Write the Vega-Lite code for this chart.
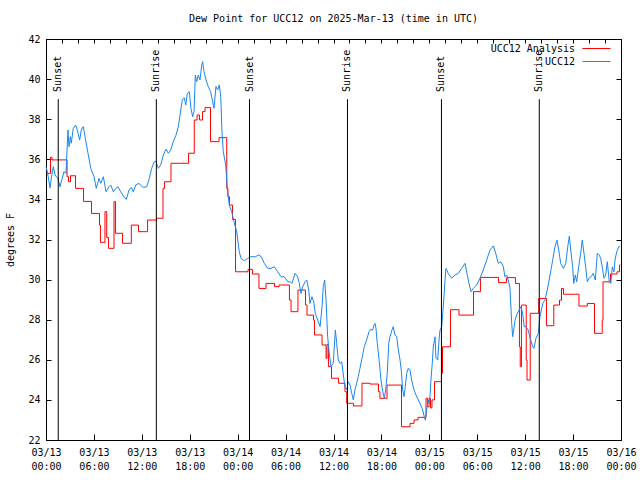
{
  "$schema": "https://vega.github.io/schema/vega-lite/v6.json",
  "width": 575,
  "height": 401,
  "autosize": {"type": "none"},
  "padding": {"left": 46, "top": 39, "right": 19, "bottom": 40},
  "background": "white",
  "title": {"text": "Dew Point for UCC12 on 2025-Mar-13 (time in UTC)", "font": "DejaVu Sans Mono", "fontSize": 10, "fontWeight": "normal", "color": "black", "anchor": "middle", "offset": 10},
  "config": {
    "view": {"stroke": "black", "strokeWidth": 1},
    "axis": {"grid": false, "domain": false, "tickColor": "black", "labelColor": "black", "labelFont": "DejaVu Sans Mono", "labelFontSize": 10, "titleFont": "DejaVu Sans Mono", "titleFontSize": 10, "titleFontWeight": "normal", "titleColor": "black"}
  },
  "datasets": {
    "sun": [
      {"time": "2025-03-13T01:32:00Z", "event": "Sunset"},
      {"time": "2025-03-13T13:49:00Z", "event": "Sunrise"},
      {"time": "2025-03-14T01:29:00Z", "event": "Sunset"},
      {"time": "2025-03-14T13:45:00Z", "event": "Sunrise"},
      {"time": "2025-03-15T01:31:00Z", "event": "Sunset"},
      {"time": "2025-03-15T13:46:00Z", "event": "Sunrise"}
    ],
    "dew": [
      {"series": "UCC12 Analysis", "time": "2025-03-13T00:00:00Z", "dewpt": 35.3},
      {"series": "UCC12 Analysis", "time": "2025-03-13T00:34:00Z", "dewpt": 36.1},
      {"series": "UCC12 Analysis", "time": "2025-03-13T00:45:00Z", "dewpt": 35.97},
      {"series": "UCC12 Analysis", "time": "2025-03-13T02:38:00Z", "dewpt": 35.13},
      {"series": "UCC12 Analysis", "time": "2025-03-13T02:49:00Z", "dewpt": 34.88},
      {"series": "UCC12 Analysis", "time": "2025-03-13T03:04:00Z", "dewpt": 35.18},
      {"series": "UCC12 Analysis", "time": "2025-03-13T03:42:00Z", "dewpt": 34.55},
      {"series": "UCC12 Analysis", "time": "2025-03-13T04:42:00Z", "dewpt": 33.9},
      {"series": "UCC12 Analysis", "time": "2025-03-13T05:42:00Z", "dewpt": 33.3},
      {"series": "UCC12 Analysis", "time": "2025-03-13T06:42:00Z", "dewpt": 32.72},
      {"series": "UCC12 Analysis", "time": "2025-03-13T06:49:00Z", "dewpt": 31.86},
      {"series": "UCC12 Analysis", "time": "2025-03-13T07:23:00Z", "dewpt": 33.39},
      {"series": "UCC12 Analysis", "time": "2025-03-13T07:36:00Z", "dewpt": 32.1},
      {"series": "UCC12 Analysis", "time": "2025-03-13T07:50:00Z", "dewpt": 31.56},
      {"series": "UCC12 Analysis", "time": "2025-03-13T08:31:00Z", "dewpt": 33.89},
      {"series": "UCC12 Analysis", "time": "2025-03-13T08:42:00Z", "dewpt": 32.31},
      {"series": "UCC12 Analysis", "time": "2025-03-13T09:35:00Z", "dewpt": 31.81},
      {"series": "UCC12 Analysis", "time": "2025-03-13T10:41:00Z", "dewpt": 32.72},
      {"series": "UCC12 Analysis", "time": "2025-03-13T11:35:00Z", "dewpt": 32.39},
      {"series": "UCC12 Analysis", "time": "2025-03-13T12:43:00Z", "dewpt": 32.97},
      {"series": "UCC12 Analysis", "time": "2025-03-13T13:50:00Z", "dewpt": 33.06},
      {"series": "UCC12 Analysis", "time": "2025-03-13T14:39:00Z", "dewpt": 34.55},
      {"series": "UCC12 Analysis", "time": "2025-03-13T14:50:00Z", "dewpt": 34.88},
      {"series": "UCC12 Analysis", "time": "2025-03-13T15:39:00Z", "dewpt": 35.8},
      {"series": "UCC12 Analysis", "time": "2025-03-13T17:51:00Z", "dewpt": 36.3},
      {"series": "UCC12 Analysis", "time": "2025-03-13T18:34:00Z", "dewpt": 37.96},
      {"series": "UCC12 Analysis", "time": "2025-03-13T18:55:00Z", "dewpt": 38.21},
      {"series": "UCC12 Analysis", "time": "2025-03-13T19:13:00Z", "dewpt": 37.96},
      {"series": "UCC12 Analysis", "time": "2025-03-13T19:36:00Z", "dewpt": 38.38},
      {"series": "UCC12 Analysis", "time": "2025-03-13T19:55:00Z", "dewpt": 38.58},
      {"series": "UCC12 Analysis", "time": "2025-03-13T20:36:00Z", "dewpt": 36.88},
      {"series": "UCC12 Analysis", "time": "2025-03-13T21:40:00Z", "dewpt": 37.08},
      {"series": "UCC12 Analysis", "time": "2025-03-13T22:38:00Z", "dewpt": 34.55},
      {"series": "UCC12 Analysis", "time": "2025-03-13T22:47:00Z", "dewpt": 34.13},
      {"series": "UCC12 Analysis", "time": "2025-03-13T22:59:00Z", "dewpt": 33.72},
      {"series": "UCC12 Analysis", "time": "2025-03-13T23:21:00Z", "dewpt": 33.0},
      {"series": "UCC12 Analysis", "time": "2025-03-13T23:44:00Z", "dewpt": 30.39},
      {"series": "UCC12 Analysis", "time": "2025-03-14T01:18:00Z", "dewpt": 30.51},
      {"series": "UCC12 Analysis", "time": "2025-03-14T01:51:00Z", "dewpt": 30.28},
      {"series": "UCC12 Analysis", "time": "2025-03-14T02:40:00Z", "dewpt": 29.56},
      {"series": "UCC12 Analysis", "time": "2025-03-14T03:33:00Z", "dewpt": 29.81},
      {"series": "UCC12 Analysis", "time": "2025-03-14T04:37:00Z", "dewpt": 29.65},
      {"series": "UCC12 Analysis", "time": "2025-03-14T05:11:00Z", "dewpt": 29.73},
      {"series": "UCC12 Analysis", "time": "2025-03-14T06:29:00Z", "dewpt": 28.98},
      {"series": "UCC12 Analysis", "time": "2025-03-14T06:41:00Z", "dewpt": 28.4},
      {"series": "UCC12 Analysis", "time": "2025-03-14T07:33:00Z", "dewpt": 29.48},
      {"series": "UCC12 Analysis", "time": "2025-03-14T08:30:00Z", "dewpt": 28.73},
      {"series": "UCC12 Analysis", "time": "2025-03-14T08:41:00Z", "dewpt": 28.23},
      {"series": "UCC12 Analysis", "time": "2025-03-14T09:30:00Z", "dewpt": 27.98},
      {"series": "UCC12 Analysis", "time": "2025-03-14T09:37:00Z", "dewpt": 27.24},
      {"series": "UCC12 Analysis", "time": "2025-03-14T10:34:00Z", "dewpt": 26.74},
      {"series": "UCC12 Analysis", "time": "2025-03-14T11:04:00Z", "dewpt": 26.07},
      {"series": "UCC12 Analysis", "time": "2025-03-14T11:11:00Z", "dewpt": 26.77},
      {"series": "UCC12 Analysis", "time": "2025-03-14T11:22:00Z", "dewpt": 25.66},
      {"series": "UCC12 Analysis", "time": "2025-03-14T11:45:00Z", "dewpt": 25.08},
      {"series": "UCC12 Analysis", "time": "2025-03-14T12:38:00Z", "dewpt": 24.83},
      {"series": "UCC12 Analysis", "time": "2025-03-14T13:26:00Z", "dewpt": 24.41},
      {"series": "UCC12 Analysis", "time": "2025-03-14T13:39:00Z", "dewpt": 23.83},
      {"series": "UCC12 Analysis", "time": "2025-03-14T14:30:00Z", "dewpt": 23.7},
      {"series": "UCC12 Analysis", "time": "2025-03-14T15:34:00Z", "dewpt": 24.83},
      {"series": "UCC12 Analysis", "time": "2025-03-14T16:34:00Z", "dewpt": 24.79},
      {"series": "UCC12 Analysis", "time": "2025-03-14T17:38:00Z", "dewpt": 24.41},
      {"series": "UCC12 Analysis", "time": "2025-03-14T17:49:00Z", "dewpt": 24.08},
      {"series": "UCC12 Analysis", "time": "2025-03-14T18:42:00Z", "dewpt": 24.74},
      {"series": "UCC12 Analysis", "time": "2025-03-14T20:31:00Z", "dewpt": 22.66},
      {"series": "UCC12 Analysis", "time": "2025-03-14T21:35:00Z", "dewpt": 22.83},
      {"series": "UCC12 Analysis", "time": "2025-03-14T22:05:00Z", "dewpt": 23.0},
      {"series": "UCC12 Analysis", "time": "2025-03-14T22:35:00Z", "dewpt": 23.13},
      {"series": "UCC12 Analysis", "time": "2025-03-14T23:35:00Z", "dewpt": 24.08},
      {"series": "UCC12 Analysis", "time": "2025-03-14T23:46:00Z", "dewpt": 23.66},
      {"series": "UCC12 Analysis", "time": "2025-03-14T23:58:00Z", "dewpt": 24.08},
      {"series": "UCC12 Analysis", "time": "2025-03-15T00:09:00Z", "dewpt": 23.6},
      {"series": "UCC12 Analysis", "time": "2025-03-15T00:20:00Z", "dewpt": 24.0},
      {"series": "UCC12 Analysis", "time": "2025-03-15T00:39:00Z", "dewpt": 24.91},
      {"series": "UCC12 Analysis", "time": "2025-03-15T01:31:00Z", "dewpt": 25.33},
      {"series": "UCC12 Analysis", "time": "2025-03-15T01:39:00Z", "dewpt": 26.65},
      {"series": "UCC12 Analysis", "time": "2025-03-15T02:39:00Z", "dewpt": 28.5},
      {"series": "UCC12 Analysis", "time": "2025-03-15T03:43:00Z", "dewpt": 28.23},
      {"series": "UCC12 Analysis", "time": "2025-03-15T05:32:00Z", "dewpt": 29.4},
      {"series": "UCC12 Analysis", "time": "2025-03-15T06:24:00Z", "dewpt": 30.11},
      {"series": "UCC12 Analysis", "time": "2025-03-15T08:40:00Z", "dewpt": 29.85},
      {"series": "UCC12 Analysis", "time": "2025-03-15T09:40:00Z", "dewpt": 30.1},
      {"series": "UCC12 Analysis", "time": "2025-03-15T10:47:00Z", "dewpt": 29.81},
      {"series": "UCC12 Analysis", "time": "2025-03-15T11:17:00Z", "dewpt": 26.65},
      {"series": "UCC12 Analysis", "time": "2025-03-15T11:23:00Z", "dewpt": 25.66},
      {"series": "UCC12 Analysis", "time": "2025-03-15T11:32:00Z", "dewpt": 28.73},
      {"series": "UCC12 Analysis", "time": "2025-03-15T12:08:00Z", "dewpt": 25.99},
      {"series": "UCC12 Analysis", "time": "2025-03-15T12:14:00Z", "dewpt": 24.99},
      {"series": "UCC12 Analysis", "time": "2025-03-15T12:38:00Z", "dewpt": 28.32},
      {"series": "UCC12 Analysis", "time": "2025-03-15T13:42:00Z", "dewpt": 29.06},
      {"series": "UCC12 Analysis", "time": "2025-03-15T14:40:00Z", "dewpt": 27.7},
      {"series": "UCC12 Analysis", "time": "2025-03-15T15:35:00Z", "dewpt": 28.73},
      {"series": "UCC12 Analysis", "time": "2025-03-15T16:18:00Z", "dewpt": 28.98},
      {"series": "UCC12 Analysis", "time": "2025-03-15T16:33:00Z", "dewpt": 29.56},
      {"series": "UCC12 Analysis", "time": "2025-03-15T16:48:00Z", "dewpt": 29.27},
      {"series": "UCC12 Analysis", "time": "2025-03-15T18:44:00Z", "dewpt": 28.68},
      {"series": "UCC12 Analysis", "time": "2025-03-15T19:47:00Z", "dewpt": 28.81},
      {"series": "UCC12 Analysis", "time": "2025-03-15T20:41:00Z", "dewpt": 27.32},
      {"series": "UCC12 Analysis", "time": "2025-03-15T21:39:00Z", "dewpt": 27.98},
      {"series": "UCC12 Analysis", "time": "2025-03-15T21:45:00Z", "dewpt": 29.89},
      {"series": "UCC12 Analysis", "time": "2025-03-15T22:41:00Z", "dewpt": 30.28},
      {"series": "UCC12 Analysis", "time": "2025-03-15T23:30:00Z", "dewpt": 30.39},
      {"series": "UCC12 Analysis", "time": "2025-03-15T23:49:00Z", "dewpt": 30.73},
      {"series": "UCC12 Analysis", "time": "2025-03-15T23:55:00Z", "dewpt": 30.73},
      {"series": "UCC12", "time": "2025-03-13T00:00:00Z", "dewpt": 35.63},
      {"series": "UCC12", "time": "2025-03-13T00:10:00Z", "dewpt": 35.38},
      {"series": "UCC12", "time": "2025-03-13T00:30:00Z", "dewpt": 34.57},
      {"series": "UCC12", "time": "2025-03-13T00:40:00Z", "dewpt": 35.07},
      {"series": "UCC12", "time": "2025-03-13T00:55:00Z", "dewpt": 35.63},
      {"series": "UCC12", "time": "2025-03-13T01:08:00Z", "dewpt": 35.22},
      {"series": "UCC12", "time": "2025-03-13T01:17:00Z", "dewpt": 35.13},
      {"series": "UCC12", "time": "2025-03-13T01:30:00Z", "dewpt": 35.07},
      {"series": "UCC12", "time": "2025-03-13T01:45:00Z", "dewpt": 34.63},
      {"series": "UCC12", "time": "2025-03-13T02:02:00Z", "dewpt": 35.05},
      {"series": "UCC12", "time": "2025-03-13T02:15:00Z", "dewpt": 35.38},
      {"series": "UCC12", "time": "2025-03-13T02:30:00Z", "dewpt": 35.3},
      {"series": "UCC12", "time": "2025-03-13T02:45:00Z", "dewpt": 37.46},
      {"series": "UCC12", "time": "2025-03-13T02:53:00Z", "dewpt": 36.63},
      {"series": "UCC12", "time": "2025-03-13T03:03:00Z", "dewpt": 37.13},
      {"series": "UCC12", "time": "2025-03-13T03:10:00Z", "dewpt": 36.8},
      {"series": "UCC12", "time": "2025-03-13T03:25:00Z", "dewpt": 37.55},
      {"series": "UCC12", "time": "2025-03-13T03:43:00Z", "dewpt": 37.71},
      {"series": "UCC12", "time": "2025-03-13T03:55:00Z", "dewpt": 37.46},
      {"series": "UCC12", "time": "2025-03-13T04:13:00Z", "dewpt": 36.96},
      {"series": "UCC12", "time": "2025-03-13T04:25:00Z", "dewpt": 37.46},
      {"series": "UCC12", "time": "2025-03-13T04:40:00Z", "dewpt": 37.63},
      {"series": "UCC12", "time": "2025-03-13T04:58:00Z", "dewpt": 36.96},
      {"series": "UCC12", "time": "2025-03-13T05:16:00Z", "dewpt": 36.3},
      {"series": "UCC12", "time": "2025-03-13T05:36:00Z", "dewpt": 35.55},
      {"series": "UCC12", "time": "2025-03-13T06:01:00Z", "dewpt": 35.13},
      {"series": "UCC12", "time": "2025-03-13T06:18:00Z", "dewpt": 34.55},
      {"series": "UCC12", "time": "2025-03-13T06:38:00Z", "dewpt": 35.05},
      {"series": "UCC12", "time": "2025-03-13T06:51:00Z", "dewpt": 34.8},
      {"series": "UCC12", "time": "2025-03-13T07:11:00Z", "dewpt": 35.13},
      {"series": "UCC12", "time": "2025-03-13T07:31:00Z", "dewpt": 34.38},
      {"series": "UCC12", "time": "2025-03-13T07:53:00Z", "dewpt": 34.63},
      {"series": "UCC12", "time": "2025-03-13T08:06:00Z", "dewpt": 34.72},
      {"series": "UCC12", "time": "2025-03-13T08:26:00Z", "dewpt": 34.38},
      {"series": "UCC12", "time": "2025-03-13T08:44:00Z", "dewpt": 34.55},
      {"series": "UCC12", "time": "2025-03-13T09:01:00Z", "dewpt": 34.63},
      {"series": "UCC12", "time": "2025-03-13T09:21:00Z", "dewpt": 34.38},
      {"series": "UCC12", "time": "2025-03-13T09:46:00Z", "dewpt": 34.13},
      {"series": "UCC12", "time": "2025-03-13T10:03:00Z", "dewpt": 34.0},
      {"series": "UCC12", "time": "2025-03-13T10:24:00Z", "dewpt": 34.47},
      {"series": "UCC12", "time": "2025-03-13T10:41:00Z", "dewpt": 34.6},
      {"series": "UCC12", "time": "2025-03-13T10:56:00Z", "dewpt": 34.38},
      {"series": "UCC12", "time": "2025-03-13T11:14:00Z", "dewpt": 34.72},
      {"series": "UCC12", "time": "2025-03-13T11:39:00Z", "dewpt": 34.8},
      {"series": "UCC12", "time": "2025-03-13T11:56:00Z", "dewpt": 34.67},
      {"series": "UCC12", "time": "2025-03-13T12:11:00Z", "dewpt": 34.6},
      {"series": "UCC12", "time": "2025-03-13T12:37:00Z", "dewpt": 34.63},
      {"series": "UCC12", "time": "2025-03-13T12:56:00Z", "dewpt": 35.05},
      {"series": "UCC12", "time": "2025-03-13T13:14:00Z", "dewpt": 35.55},
      {"series": "UCC12", "time": "2025-03-13T13:31:00Z", "dewpt": 35.85},
      {"series": "UCC12", "time": "2025-03-13T13:46:00Z", "dewpt": 35.91},
      {"series": "UCC12", "time": "2025-03-13T14:04:00Z", "dewpt": 35.55},
      {"series": "UCC12", "time": "2025-03-13T14:22:00Z", "dewpt": 35.72},
      {"series": "UCC12", "time": "2025-03-13T14:41:00Z", "dewpt": 36.21},
      {"series": "UCC12", "time": "2025-03-13T15:02:00Z", "dewpt": 36.51},
      {"series": "UCC12", "time": "2025-03-13T15:19:00Z", "dewpt": 36.3},
      {"series": "UCC12", "time": "2025-03-13T15:37:00Z", "dewpt": 36.46},
      {"series": "UCC12", "time": "2025-03-13T15:56:00Z", "dewpt": 36.88},
      {"series": "UCC12", "time": "2025-03-13T16:17:00Z", "dewpt": 37.21},
      {"series": "UCC12", "time": "2025-03-13T16:34:00Z", "dewpt": 37.63},
      {"series": "UCC12", "time": "2025-03-13T16:47:00Z", "dewpt": 38.21},
      {"series": "UCC12", "time": "2025-03-13T17:04:00Z", "dewpt": 38.96},
      {"series": "UCC12", "time": "2025-03-13T17:19:00Z", "dewpt": 39.07},
      {"series": "UCC12", "time": "2025-03-13T17:30:00Z", "dewpt": 38.71},
      {"series": "UCC12", "time": "2025-03-13T17:42:00Z", "dewpt": 39.29},
      {"series": "UCC12", "time": "2025-03-13T17:57:00Z", "dewpt": 39.37},
      {"series": "UCC12", "time": "2025-03-13T18:09:00Z", "dewpt": 38.54},
      {"series": "UCC12", "time": "2025-03-13T18:22:00Z", "dewpt": 38.12},
      {"series": "UCC12", "time": "2025-03-13T18:32:00Z", "dewpt": 38.38},
      {"series": "UCC12", "time": "2025-03-13T18:42:00Z", "dewpt": 40.2},
      {"series": "UCC12", "time": "2025-03-13T18:52:00Z", "dewpt": 39.87},
      {"series": "UCC12", "time": "2025-03-13T19:04:00Z", "dewpt": 40.2},
      {"series": "UCC12", "time": "2025-03-13T19:17:00Z", "dewpt": 39.96},
      {"series": "UCC12", "time": "2025-03-13T19:30:00Z", "dewpt": 40.7},
      {"series": "UCC12", "time": "2025-03-13T19:37:00Z", "dewpt": 40.87},
      {"series": "UCC12", "time": "2025-03-13T19:47:00Z", "dewpt": 40.37},
      {"series": "UCC12", "time": "2025-03-13T20:02:00Z", "dewpt": 39.96},
      {"series": "UCC12", "time": "2025-03-13T20:19:00Z", "dewpt": 39.63},
      {"series": "UCC12", "time": "2025-03-13T20:37:00Z", "dewpt": 39.37},
      {"series": "UCC12", "time": "2025-03-13T20:52:00Z", "dewpt": 38.87},
      {"series": "UCC12", "time": "2025-03-13T21:02:00Z", "dewpt": 38.54},
      {"series": "UCC12", "time": "2025-03-13T21:17:00Z", "dewpt": 39.63},
      {"series": "UCC12", "time": "2025-03-13T21:30:00Z", "dewpt": 39.46},
      {"series": "UCC12", "time": "2025-03-13T21:42:00Z", "dewpt": 39.71},
      {"series": "UCC12", "time": "2025-03-13T21:53:00Z", "dewpt": 39.12},
      {"series": "UCC12", "time": "2025-03-13T22:02:00Z", "dewpt": 37.38},
      {"series": "UCC12", "time": "2025-03-13T22:12:00Z", "dewpt": 36.38},
      {"series": "UCC12", "time": "2025-03-13T22:30:00Z", "dewpt": 35.72},
      {"series": "UCC12", "time": "2025-03-13T22:42:00Z", "dewpt": 34.55},
      {"series": "UCC12", "time": "2025-03-13T22:57:00Z", "dewpt": 33.72},
      {"series": "UCC12", "time": "2025-03-13T23:15:00Z", "dewpt": 33.39},
      {"series": "UCC12", "time": "2025-03-13T23:32:00Z", "dewpt": 32.89},
      {"series": "UCC12", "time": "2025-03-13T23:53:00Z", "dewpt": 32.39},
      {"series": "UCC12", "time": "2025-03-14T00:12:00Z", "dewpt": 31.39},
      {"series": "UCC12", "time": "2025-03-14T00:25:00Z", "dewpt": 31.06},
      {"series": "UCC12", "time": "2025-03-14T00:50:00Z", "dewpt": 30.94},
      {"series": "UCC12", "time": "2025-03-14T01:15:00Z", "dewpt": 31.06},
      {"series": "UCC12", "time": "2025-03-14T01:40:00Z", "dewpt": 31.14},
      {"series": "UCC12", "time": "2025-03-14T02:13:00Z", "dewpt": 31.14},
      {"series": "UCC12", "time": "2025-03-14T02:38:00Z", "dewpt": 31.23},
      {"series": "UCC12", "time": "2025-03-14T02:58:00Z", "dewpt": 31.14},
      {"series": "UCC12", "time": "2025-03-14T03:20:00Z", "dewpt": 30.81},
      {"series": "UCC12", "time": "2025-03-14T03:46:00Z", "dewpt": 30.56},
      {"series": "UCC12", "time": "2025-03-14T04:10:00Z", "dewpt": 30.56},
      {"series": "UCC12", "time": "2025-03-14T04:35:00Z", "dewpt": 30.64},
      {"series": "UCC12", "time": "2025-03-14T05:01:00Z", "dewpt": 30.39},
      {"series": "UCC12", "time": "2025-03-14T05:26:00Z", "dewpt": 30.14},
      {"series": "UCC12", "time": "2025-03-14T05:50:00Z", "dewpt": 30.14},
      {"series": "UCC12", "time": "2025-03-14T06:16:00Z", "dewpt": 29.89},
      {"series": "UCC12", "time": "2025-03-14T06:35:00Z", "dewpt": 29.89},
      {"series": "UCC12", "time": "2025-03-14T06:48:00Z", "dewpt": 29.81},
      {"series": "UCC12", "time": "2025-03-14T07:11:00Z", "dewpt": 30.31},
      {"series": "UCC12", "time": "2025-03-14T07:31:00Z", "dewpt": 30.14},
      {"series": "UCC12", "time": "2025-03-14T07:43:00Z", "dewpt": 29.81},
      {"series": "UCC12", "time": "2025-03-14T07:56:00Z", "dewpt": 29.31},
      {"series": "UCC12", "time": "2025-03-14T08:09:00Z", "dewpt": 29.65},
      {"series": "UCC12", "time": "2025-03-14T08:26:00Z", "dewpt": 29.89},
      {"series": "UCC12", "time": "2025-03-14T08:39:00Z", "dewpt": 29.98},
      {"series": "UCC12", "time": "2025-03-14T08:54:00Z", "dewpt": 29.48},
      {"series": "UCC12", "time": "2025-03-14T09:03:00Z", "dewpt": 28.81},
      {"series": "UCC12", "time": "2025-03-14T09:18:00Z", "dewpt": 29.15},
      {"series": "UCC12", "time": "2025-03-14T09:31:00Z", "dewpt": 28.9},
      {"series": "UCC12", "time": "2025-03-14T09:43:00Z", "dewpt": 28.32},
      {"series": "UCC12", "time": "2025-03-14T10:01:00Z", "dewpt": 27.98},
      {"series": "UCC12", "time": "2025-03-14T10:19:00Z", "dewpt": 27.65},
      {"series": "UCC12", "time": "2025-03-14T10:34:00Z", "dewpt": 28.65},
      {"series": "UCC12", "time": "2025-03-14T10:43:00Z", "dewpt": 29.65},
      {"series": "UCC12", "time": "2025-03-14T10:54:00Z", "dewpt": 29.98},
      {"series": "UCC12", "time": "2025-03-14T11:04:00Z", "dewpt": 28.98},
      {"series": "UCC12", "time": "2025-03-14T11:16:00Z", "dewpt": 27.15},
      {"series": "UCC12", "time": "2025-03-14T11:28:00Z", "dewpt": 26.32},
      {"series": "UCC12", "time": "2025-03-14T11:41:00Z", "dewpt": 25.66},
      {"series": "UCC12", "time": "2025-03-14T11:58:00Z", "dewpt": 25.82},
      {"series": "UCC12", "time": "2025-03-14T12:14:00Z", "dewpt": 27.48},
      {"series": "UCC12", "time": "2025-03-14T12:24:00Z", "dewpt": 26.82},
      {"series": "UCC12", "time": "2025-03-14T12:36:00Z", "dewpt": 25.99},
      {"series": "UCC12", "time": "2025-03-14T12:49:00Z", "dewpt": 25.82},
      {"series": "UCC12", "time": "2025-03-14T13:02:00Z", "dewpt": 25.9},
      {"series": "UCC12", "time": "2025-03-14T13:14:00Z", "dewpt": 25.24},
      {"series": "UCC12", "time": "2025-03-14T13:26:00Z", "dewpt": 24.66},
      {"series": "UCC12", "time": "2025-03-14T13:39:00Z", "dewpt": 24.5},
      {"series": "UCC12", "time": "2025-03-14T13:51:00Z", "dewpt": 24.91},
      {"series": "UCC12", "time": "2025-03-14T14:04:00Z", "dewpt": 24.74},
      {"series": "UCC12", "time": "2025-03-14T14:17:00Z", "dewpt": 24.33},
      {"series": "UCC12", "time": "2025-03-14T14:29:00Z", "dewpt": 24.0},
      {"series": "UCC12", "time": "2025-03-14T14:41:00Z", "dewpt": 24.5},
      {"series": "UCC12", "time": "2025-03-14T14:54:00Z", "dewpt": 24.83},
      {"series": "UCC12", "time": "2025-03-14T15:06:00Z", "dewpt": 25.16},
      {"series": "UCC12", "time": "2025-03-14T15:19:00Z", "dewpt": 25.58},
      {"series": "UCC12", "time": "2025-03-14T15:36:00Z", "dewpt": 26.15},
      {"series": "UCC12", "time": "2025-03-14T15:51:00Z", "dewpt": 26.65},
      {"series": "UCC12", "time": "2025-03-14T16:09:00Z", "dewpt": 26.99},
      {"series": "UCC12", "time": "2025-03-14T16:27:00Z", "dewpt": 27.4},
      {"series": "UCC12", "time": "2025-03-14T16:39:00Z", "dewpt": 27.52},
      {"series": "UCC12", "time": "2025-03-14T16:54:00Z", "dewpt": 27.48},
      {"series": "UCC12", "time": "2025-03-14T17:04:00Z", "dewpt": 27.73},
      {"series": "UCC12", "time": "2025-03-14T17:12:00Z", "dewpt": 27.82},
      {"series": "UCC12", "time": "2025-03-14T17:19:00Z", "dewpt": 27.57},
      {"series": "UCC12", "time": "2025-03-14T17:29:00Z", "dewpt": 26.82},
      {"series": "UCC12", "time": "2025-03-14T17:44:00Z", "dewpt": 25.9},
      {"series": "UCC12", "time": "2025-03-14T17:57:00Z", "dewpt": 24.99},
      {"series": "UCC12", "time": "2025-03-14T18:10:00Z", "dewpt": 24.41},
      {"series": "UCC12", "time": "2025-03-14T18:22:00Z", "dewpt": 24.08},
      {"series": "UCC12", "time": "2025-03-14T18:32:00Z", "dewpt": 24.5},
      {"series": "UCC12", "time": "2025-03-14T18:44:00Z", "dewpt": 25.32},
      {"series": "UCC12", "time": "2025-03-14T18:55:00Z", "dewpt": 26.82},
      {"series": "UCC12", "time": "2025-03-14T19:04:00Z", "dewpt": 27.15},
      {"series": "UCC12", "time": "2025-03-14T19:19:00Z", "dewpt": 27.48},
      {"series": "UCC12", "time": "2025-03-14T19:29:00Z", "dewpt": 27.65},
      {"series": "UCC12", "time": "2025-03-14T19:42:00Z", "dewpt": 27.24},
      {"series": "UCC12", "time": "2025-03-14T19:55:00Z", "dewpt": 27.15},
      {"series": "UCC12", "time": "2025-03-14T20:07:00Z", "dewpt": 26.49},
      {"series": "UCC12", "time": "2025-03-14T20:20:00Z", "dewpt": 25.99},
      {"series": "UCC12", "time": "2025-03-14T20:29:00Z", "dewpt": 25.49},
      {"series": "UCC12", "time": "2025-03-14T20:40:00Z", "dewpt": 24.5},
      {"series": "UCC12", "time": "2025-03-14T20:50:00Z", "dewpt": 24.16},
      {"series": "UCC12", "time": "2025-03-14T20:59:00Z", "dewpt": 24.66},
      {"series": "UCC12", "time": "2025-03-14T21:10:00Z", "dewpt": 25.32},
      {"series": "UCC12", "time": "2025-03-14T21:22:00Z", "dewpt": 25.58},
      {"series": "UCC12", "time": "2025-03-14T21:35:00Z", "dewpt": 25.49},
      {"series": "UCC12", "time": "2025-03-14T21:47:00Z", "dewpt": 24.99},
      {"series": "UCC12", "time": "2025-03-14T22:05:00Z", "dewpt": 24.5},
      {"series": "UCC12", "time": "2025-03-14T22:20:00Z", "dewpt": 24.24},
      {"series": "UCC12", "time": "2025-03-14T22:37:00Z", "dewpt": 24.0},
      {"series": "UCC12", "time": "2025-03-14T22:55:00Z", "dewpt": 23.75},
      {"series": "UCC12", "time": "2025-03-14T23:10:00Z", "dewpt": 23.5},
      {"series": "UCC12", "time": "2025-03-14T23:22:00Z", "dewpt": 23.16},
      {"series": "UCC12", "time": "2025-03-14T23:30:00Z", "dewpt": 22.99},
      {"series": "UCC12", "time": "2025-03-14T23:40:00Z", "dewpt": 23.5},
      {"series": "UCC12", "time": "2025-03-14T23:52:00Z", "dewpt": 24.0},
      {"series": "UCC12", "time": "2025-03-15T00:00:00Z", "dewpt": 23.83},
      {"series": "UCC12", "time": "2025-03-15T00:05:00Z", "dewpt": 24.16},
      {"series": "UCC12", "time": "2025-03-15T00:12:00Z", "dewpt": 24.99},
      {"series": "UCC12", "time": "2025-03-15T00:22:00Z", "dewpt": 25.82},
      {"series": "UCC12", "time": "2025-03-15T00:30:00Z", "dewpt": 26.65},
      {"series": "UCC12", "time": "2025-03-15T00:43:00Z", "dewpt": 27.15},
      {"series": "UCC12", "time": "2025-03-15T00:50:00Z", "dewpt": 26.08},
      {"series": "UCC12", "time": "2025-03-15T01:03:00Z", "dewpt": 25.99},
      {"series": "UCC12", "time": "2025-03-15T01:13:00Z", "dewpt": 26.99},
      {"series": "UCC12", "time": "2025-03-15T01:20:00Z", "dewpt": 27.48},
      {"series": "UCC12", "time": "2025-03-15T01:33:00Z", "dewpt": 27.65},
      {"series": "UCC12", "time": "2025-03-15T01:45:00Z", "dewpt": 28.65},
      {"series": "UCC12", "time": "2025-03-15T01:58:00Z", "dewpt": 29.98},
      {"series": "UCC12", "time": "2025-03-15T02:05:00Z", "dewpt": 30.56},
      {"series": "UCC12", "time": "2025-03-15T02:22:00Z", "dewpt": 30.31},
      {"series": "UCC12", "time": "2025-03-15T02:48:00Z", "dewpt": 30.07},
      {"series": "UCC12", "time": "2025-03-15T03:13:00Z", "dewpt": 30.23},
      {"series": "UCC12", "time": "2025-03-15T03:38:00Z", "dewpt": 30.31},
      {"series": "UCC12", "time": "2025-03-15T04:03:00Z", "dewpt": 30.56},
      {"series": "UCC12", "time": "2025-03-15T04:28:00Z", "dewpt": 30.81},
      {"series": "UCC12", "time": "2025-03-15T04:43:00Z", "dewpt": 30.31},
      {"series": "UCC12", "time": "2025-03-15T04:58:00Z", "dewpt": 29.81},
      {"series": "UCC12", "time": "2025-03-15T05:13:00Z", "dewpt": 29.4},
      {"series": "UCC12", "time": "2025-03-15T05:30:00Z", "dewpt": 29.56},
      {"series": "UCC12", "time": "2025-03-15T05:56:00Z", "dewpt": 29.73},
      {"series": "UCC12", "time": "2025-03-15T06:21:00Z", "dewpt": 30.07},
      {"series": "UCC12", "time": "2025-03-15T06:45:00Z", "dewpt": 30.48},
      {"series": "UCC12", "time": "2025-03-15T07:11:00Z", "dewpt": 30.98},
      {"series": "UCC12", "time": "2025-03-15T07:36:00Z", "dewpt": 31.48},
      {"series": "UCC12", "time": "2025-03-15T08:01:00Z", "dewpt": 31.68},
      {"series": "UCC12", "time": "2025-03-15T08:19:00Z", "dewpt": 31.31},
      {"series": "UCC12", "time": "2025-03-15T08:38:00Z", "dewpt": 30.81},
      {"series": "UCC12", "time": "2025-03-15T08:58:00Z", "dewpt": 30.89},
      {"series": "UCC12", "time": "2025-03-15T09:16:00Z", "dewpt": 30.64},
      {"series": "UCC12", "time": "2025-03-15T09:28:00Z", "dewpt": 30.14},
      {"series": "UCC12", "time": "2025-03-15T09:41:00Z", "dewpt": 30.23},
      {"series": "UCC12", "time": "2025-03-15T09:53:00Z", "dewpt": 29.98},
      {"series": "UCC12", "time": "2025-03-15T10:06:00Z", "dewpt": 29.56},
      {"series": "UCC12", "time": "2025-03-15T10:19:00Z", "dewpt": 27.8},
      {"series": "UCC12", "time": "2025-03-15T10:26:00Z", "dewpt": 27.15},
      {"series": "UCC12", "time": "2025-03-15T10:36:00Z", "dewpt": 27.6},
      {"series": "UCC12", "time": "2025-03-15T10:44:00Z", "dewpt": 27.98},
      {"series": "UCC12", "time": "2025-03-15T10:56:00Z", "dewpt": 28.23},
      {"series": "UCC12", "time": "2025-03-15T11:14:00Z", "dewpt": 28.48},
      {"series": "UCC12", "time": "2025-03-15T11:29:00Z", "dewpt": 28.65},
      {"series": "UCC12", "time": "2025-03-15T11:41:00Z", "dewpt": 28.32},
      {"series": "UCC12", "time": "2025-03-15T11:53:00Z", "dewpt": 27.65},
      {"series": "UCC12", "time": "2025-03-15T12:06:00Z", "dewpt": 27.65},
      {"series": "UCC12", "time": "2025-03-15T12:23:00Z", "dewpt": 27.48},
      {"series": "UCC12", "time": "2025-03-15T12:41:00Z", "dewpt": 26.99},
      {"series": "UCC12", "time": "2025-03-15T12:57:00Z", "dewpt": 26.65},
      {"series": "UCC12", "time": "2025-03-15T13:06:00Z", "dewpt": 26.57},
      {"series": "UCC12", "time": "2025-03-15T13:21:00Z", "dewpt": 27.07},
      {"series": "UCC12", "time": "2025-03-15T13:39:00Z", "dewpt": 27.32},
      {"series": "UCC12", "time": "2025-03-15T13:51:00Z", "dewpt": 28.15},
      {"series": "UCC12", "time": "2025-03-15T14:12:00Z", "dewpt": 28.81},
      {"series": "UCC12", "time": "2025-03-15T14:29:00Z", "dewpt": 28.98},
      {"series": "UCC12", "time": "2025-03-15T14:46:00Z", "dewpt": 29.48},
      {"series": "UCC12", "time": "2025-03-15T15:07:00Z", "dewpt": 30.23},
      {"series": "UCC12", "time": "2025-03-15T15:27:00Z", "dewpt": 30.98},
      {"series": "UCC12", "time": "2025-03-15T15:44:00Z", "dewpt": 31.64},
      {"series": "UCC12", "time": "2025-03-15T15:59:00Z", "dewpt": 31.97},
      {"series": "UCC12", "time": "2025-03-15T16:12:00Z", "dewpt": 31.48},
      {"series": "UCC12", "time": "2025-03-15T16:27:00Z", "dewpt": 30.81},
      {"series": "UCC12", "time": "2025-03-15T16:47:00Z", "dewpt": 30.56},
      {"series": "UCC12", "time": "2025-03-15T17:05:00Z", "dewpt": 30.81},
      {"series": "UCC12", "time": "2025-03-15T17:20:00Z", "dewpt": 31.64},
      {"series": "UCC12", "time": "2025-03-15T17:32:00Z", "dewpt": 32.17},
      {"series": "UCC12", "time": "2025-03-15T17:42:00Z", "dewpt": 31.48},
      {"series": "UCC12", "time": "2025-03-15T17:57:00Z", "dewpt": 30.64},
      {"series": "UCC12", "time": "2025-03-15T18:05:00Z", "dewpt": 29.81},
      {"series": "UCC12", "time": "2025-03-15T18:17:00Z", "dewpt": 30.23},
      {"series": "UCC12", "time": "2025-03-15T18:27:00Z", "dewpt": 29.89},
      {"series": "UCC12", "time": "2025-03-15T18:42:00Z", "dewpt": 30.64},
      {"series": "UCC12", "time": "2025-03-15T18:57:00Z", "dewpt": 31.31},
      {"series": "UCC12", "time": "2025-03-15T19:09:00Z", "dewpt": 31.97},
      {"series": "UCC12", "time": "2025-03-15T19:22:00Z", "dewpt": 31.31},
      {"series": "UCC12", "time": "2025-03-15T19:37:00Z", "dewpt": 30.48},
      {"series": "UCC12", "time": "2025-03-15T19:47:00Z", "dewpt": 29.89},
      {"series": "UCC12", "time": "2025-03-15T20:00:00Z", "dewpt": 30.07},
      {"series": "UCC12", "time": "2025-03-15T20:15:00Z", "dewpt": 30.14},
      {"series": "UCC12", "time": "2025-03-15T20:32:00Z", "dewpt": 30.31},
      {"series": "UCC12", "time": "2025-03-15T20:47:00Z", "dewpt": 29.98},
      {"series": "UCC12", "time": "2025-03-15T21:02:00Z", "dewpt": 31.31},
      {"series": "UCC12", "time": "2025-03-15T21:17:00Z", "dewpt": 31.23},
      {"series": "UCC12", "time": "2025-03-15T21:27:00Z", "dewpt": 31.06},
      {"series": "UCC12", "time": "2025-03-15T21:39:00Z", "dewpt": 30.64},
      {"series": "UCC12", "time": "2025-03-15T21:52:00Z", "dewpt": 30.07},
      {"series": "UCC12", "time": "2025-03-15T22:05:00Z", "dewpt": 30.23},
      {"series": "UCC12", "time": "2025-03-15T22:17:00Z", "dewpt": 30.89},
      {"series": "UCC12", "time": "2025-03-15T22:32:00Z", "dewpt": 29.89},
      {"series": "UCC12", "time": "2025-03-15T22:43:00Z", "dewpt": 29.81},
      {"series": "UCC12", "time": "2025-03-15T22:55:00Z", "dewpt": 30.64},
      {"series": "UCC12", "time": "2025-03-15T23:07:00Z", "dewpt": 30.39},
      {"series": "UCC12", "time": "2025-03-15T23:15:00Z", "dewpt": 30.98},
      {"series": "UCC12", "time": "2025-03-15T23:28:00Z", "dewpt": 31.39},
      {"series": "UCC12", "time": "2025-03-15T23:43:00Z", "dewpt": 31.64},
      {"series": "UCC12", "time": "2025-03-15T23:52:00Z", "dewpt": 31.64}
    ]
  },
  "layer": [
    {
      "data": {"name": "dew"},
      "transform": [{"filter": "datum.series == 'UCC12 Analysis'"}],
      "mark": {"type": "line", "interpolate": "step-after", "strokeWidth": 1},
      "encoding": {
        "x": {"field": "time", "type": "temporal",
          "scale": {"type": "utc", "domain": [{"year": 2025, "month": 3, "date": 13, "utc": true}, {"year": 2025, "month": 3, "date": 16, "utc": true}]},
          "axis": {"orient": "bottom", "title": null,
            "values": [
              {"year": 2025, "month": 3, "date": 13, "hours": 0, "utc": true},
              {"year": 2025, "month": 3, "date": 13, "hours": 6, "utc": true},
              {"year": 2025, "month": 3, "date": 13, "hours": 12, "utc": true},
              {"year": 2025, "month": 3, "date": 13, "hours": 18, "utc": true},
              {"year": 2025, "month": 3, "date": 14, "hours": 0, "utc": true},
              {"year": 2025, "month": 3, "date": 14, "hours": 6, "utc": true},
              {"year": 2025, "month": 3, "date": 14, "hours": 12, "utc": true},
              {"year": 2025, "month": 3, "date": 14, "hours": 18, "utc": true},
              {"year": 2025, "month": 3, "date": 15, "hours": 0, "utc": true},
              {"year": 2025, "month": 3, "date": 15, "hours": 6, "utc": true},
              {"year": 2025, "month": 3, "date": 15, "hours": 12, "utc": true},
              {"year": 2025, "month": 3, "date": 15, "hours": 18, "utc": true},
              {"year": 2025, "month": 3, "date": 16, "hours": 0, "utc": true}
            ],
            "labelExpr": "[utcFormat(datum.value, '%m/%d'), utcFormat(datum.value, '%H:%M')]",
            "tickSize": -6, "labelOverlap": false, "labelFlush": false, "labelBaseline": "top", "labelLineHeight": 14, "labelPadding": 13}},
        "y": {"field": "dewpt", "type": "quantitative",
          "scale": {"domain": [22, 42], "nice": false, "zero": false},
          "axis": {"orient": "left", "title": "degrees F", "values": [22, 24, 26, 28, 30, 32, 34, 36, 38, 40, 42],
            "tickSize": -5, "labelPadding": 11, "titleX": -36, "titleBaseline": "middle"}},
        "color": {"field": "series", "type": "nominal",
          "scale": {"domain": ["UCC12 Analysis", "UCC12"], "range": ["#ff0000", "#1a86f0"]},
          "legend": {"orient": "none", "legendX": 543, "legendY": 2, "title": null, "padding": 0,
            "symbolType": "M-2,0H2", "symbolSize": 196, "symbolStrokeWidth": 1,
            "labelAlign": "right", "labelOffset": -29, "labelFont": "DejaVu Sans Mono", "labelFontSize": 10, "labelColor": "black", "rowPadding": 0}}
      }
    },
    {
      "data": {"name": "dew"},
      "transform": [{"filter": "datum.series == 'UCC12'"}],
      "mark": {"type": "line", "strokeWidth": 1},
      "encoding": {
        "x": {"field": "time", "type": "temporal",
          "axis": {"orient": "top", "title": null, "labels": false, "tickSize": -4,
            "values": [
              {"year": 2025, "month": 3, "date": 13, "hours": 0, "utc": true},
              {"year": 2025, "month": 3, "date": 13, "hours": 2, "utc": true},
              {"year": 2025, "month": 3, "date": 13, "hours": 4, "utc": true},
              {"year": 2025, "month": 3, "date": 13, "hours": 6, "utc": true},
              {"year": 2025, "month": 3, "date": 13, "hours": 8, "utc": true},
              {"year": 2025, "month": 3, "date": 13, "hours": 10, "utc": true},
              {"year": 2025, "month": 3, "date": 13, "hours": 12, "utc": true},
              {"year": 2025, "month": 3, "date": 13, "hours": 14, "utc": true},
              {"year": 2025, "month": 3, "date": 13, "hours": 16, "utc": true},
              {"year": 2025, "month": 3, "date": 13, "hours": 18, "utc": true},
              {"year": 2025, "month": 3, "date": 13, "hours": 20, "utc": true},
              {"year": 2025, "month": 3, "date": 13, "hours": 22, "utc": true},
              {"year": 2025, "month": 3, "date": 14, "hours": 0, "utc": true},
              {"year": 2025, "month": 3, "date": 14, "hours": 2, "utc": true},
              {"year": 2025, "month": 3, "date": 14, "hours": 4, "utc": true},
              {"year": 2025, "month": 3, "date": 14, "hours": 6, "utc": true},
              {"year": 2025, "month": 3, "date": 14, "hours": 8, "utc": true},
              {"year": 2025, "month": 3, "date": 14, "hours": 10, "utc": true},
              {"year": 2025, "month": 3, "date": 14, "hours": 12, "utc": true},
              {"year": 2025, "month": 3, "date": 14, "hours": 14, "utc": true},
              {"year": 2025, "month": 3, "date": 14, "hours": 16, "utc": true},
              {"year": 2025, "month": 3, "date": 14, "hours": 18, "utc": true},
              {"year": 2025, "month": 3, "date": 14, "hours": 20, "utc": true},
              {"year": 2025, "month": 3, "date": 14, "hours": 22, "utc": true},
              {"year": 2025, "month": 3, "date": 15, "hours": 0, "utc": true},
              {"year": 2025, "month": 3, "date": 15, "hours": 2, "utc": true},
              {"year": 2025, "month": 3, "date": 15, "hours": 4, "utc": true},
              {"year": 2025, "month": 3, "date": 15, "hours": 6, "utc": true},
              {"year": 2025, "month": 3, "date": 15, "hours": 8, "utc": true},
              {"year": 2025, "month": 3, "date": 15, "hours": 10, "utc": true},
              {"year": 2025, "month": 3, "date": 15, "hours": 12, "utc": true},
              {"year": 2025, "month": 3, "date": 15, "hours": 14, "utc": true},
              {"year": 2025, "month": 3, "date": 15, "hours": 16, "utc": true},
              {"year": 2025, "month": 3, "date": 15, "hours": 18, "utc": true},
              {"year": 2025, "month": 3, "date": 15, "hours": 20, "utc": true},
              {"year": 2025, "month": 3, "date": 15, "hours": 22, "utc": true},
              {"year": 2025, "month": 3, "date": 16, "hours": 0, "utc": true}
            ]}},
        "y": {"field": "dewpt", "type": "quantitative",
          "axis": {"orient": "right", "title": null, "labels": false, "values": [22, 24, 26, 28, 30, 32, 34, 36, 38, 40, 42], "tickSize": -5}},
        "color": {"field": "series", "type": "nominal"}
      }
    },
    {
      "data": {"name": "sun"},
      "mark": {"type": "rule", "color": "black", "strokeWidth": 1},
      "encoding": {
        "x": {"field": "time", "type": "temporal", "axis": null},
        "y": {"datum": 39.0, "type": "quantitative", "axis": null},
        "y2": {"datum": 22}
      }
    },
    {
      "data": {"name": "sun"},
      "mark": {"type": "text", "angle": 270, "align": "left", "baseline": "middle", "font": "DejaVu Sans Mono", "fontSize": 10, "color": "black"},
      "encoding": {
        "x": {"field": "time", "type": "temporal", "axis": null},
        "y": {"datum": 39.36, "type": "quantitative", "axis": null},
        "text": {"field": "event"}
      }
    }
  ],
  "resolve": {"axis": {"x": "independent", "y": "independent"}}
}
